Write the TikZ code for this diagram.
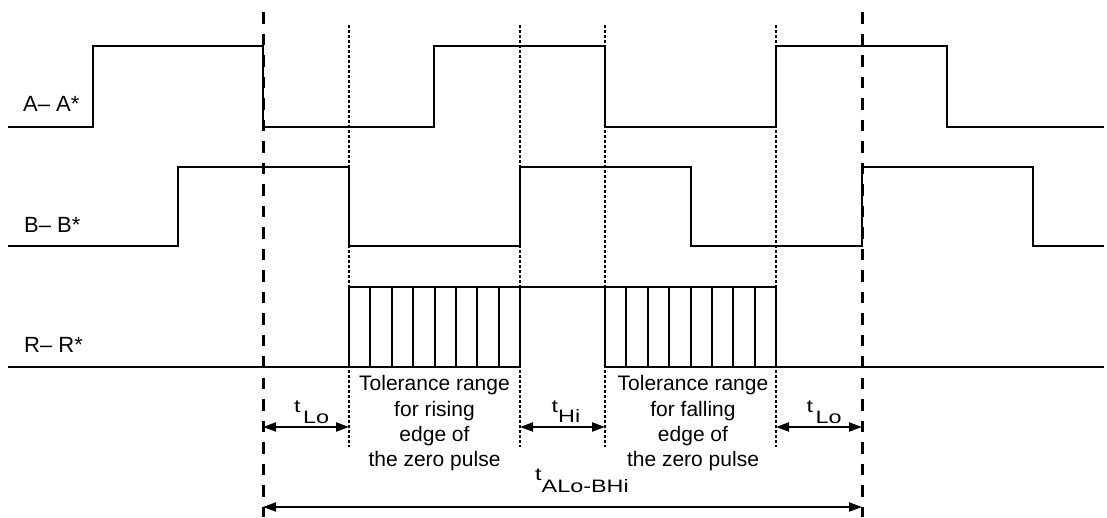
\documentclass[tikz,border=0pt]{standalone}
\usepackage{fontspec}
\setmainfont{Liberation Sans}
\usepackage{graphicx}
\usetikzlibrary{arrows.meta}
\newcommand{\hstr}[1]{\scalebox{1.3}[1]{#1}}
\begin{document}
\begin{tikzpicture}[x=1pt,y=-1pt,
  sig/.style={line width=2pt, line join=miter},
  hatch/.style={line width=2pt},
  dashv/.style={line width=3pt, dash pattern=on 11.5pt off 10pt},
  dotv/.style={line width=2.8pt, dash pattern=on 3pt off 2pt},
  dimarrow/.style={line width=2pt, {Triangle[length=13pt,width=9pt]}-{Triangle[length=13pt,width=9pt]}},
  lbl/.style={inner sep=0pt, anchor=base west, font=\fontsize{22}{26}\selectfont},
  tol/.style={inner sep=0pt, align=center, font=\fontsize{21}{25.3}\selectfont},
  sublbl/.style={inner sep=0pt, anchor=base west, font=\fontsize{18}{20}\selectfont}]
\useasboundingbox (0,0) rectangle (1107,517);

% signal labels
\node[lbl] (la) at (23,111.5) {A– A*};
\node[lbl] (lb) at (24,232) {B– B*};
\node[lbl] (lr) at (24,352.5) {R– R*};

% signals
\draw[sig] (8,127) -- (93,127) -- (93,46) -- (263,46) -- (263,127) -- (434,127) -- (434,46) -- (605,46) -- (605,127) -- (776,127) -- (776,46) -- (947,46) -- (947,127) -- (1104,127);
\draw[sig] (8,246) -- (178,246) -- (178,167) -- (349,167) -- (349,246) -- (520,246) -- (520,167) -- (691,167) -- (691,246) -- (862,246) -- (862,167) -- (1033,167) -- (1033,246) -- (1104,246);
\draw[sig] (8,367) -- (349,367);
\draw[sig] (349,287) rectangle (520,367);
\draw[sig] (520,287) -- (605,287);
\draw[sig] (605,287) rectangle (776,367);
\draw[sig] (776,367) -- (1104,367);
\foreach \k in {1,...,7} {
  \draw[hatch] ({349+171/8*\k},287) -- ({349+171/8*\k},367);
  \draw[hatch] ({605+171/8*\k},287) -- ({605+171/8*\k},367);
}

% vertical reference lines
\draw[dashv] (263,12) -- (263,517);
\draw[dashv] (862,12) -- (862,517);
\foreach \x in {349,520,605,776} {
  \draw[dotv] (\x,25) -- (\x,447);
}

% dimension coordinates
\coordinate (dL) at (263,427);
\coordinate (d1) at (349,427);
\coordinate (d2) at (520,427);
\coordinate (d3) at (605,427);
\coordinate (d4) at (776,427);
\coordinate (dR) at (862,427);
\coordinate (bL) at (263,507);
\coordinate (bR) at (862,507);

\draw[dimarrow] (dL) -- (d1);
\draw[dimarrow] (d2) -- (d3);
\draw[dimarrow] (d4) -- (dR);
\draw[dimarrow] (bL) -- (bR);

% dimension labels
\node[sublbl] (tlo1) at (294,412) {\hstr{t}\hspace{2.5pt}\raisebox{-11pt}{\hstr{Lo}}};
\node[sublbl] (thi) at (551.5,412) {\hstr{t}\raisebox{-10pt}{\hstr{Hi}}};
\node[sublbl] (tlo2) at (806.5,412) {\hstr{t}\hspace{2.5pt}\raisebox{-11pt}{\hstr{Lo}}};
\node[sublbl] (tab) at (535,480) {\hstr{t}\raisebox{-12pt}{\hstr{ALo-BHi}}};

% tolerance texts
\node[tol] (tol1) at (434.5,423.5) {Tolerance range\\for rising\\edge of\\the zero pulse};
\node[tol] (tol2) at (693,423.5) {Tolerance range\\for falling\\edge of\\the zero pulse};
\end{tikzpicture}
\end{document}
